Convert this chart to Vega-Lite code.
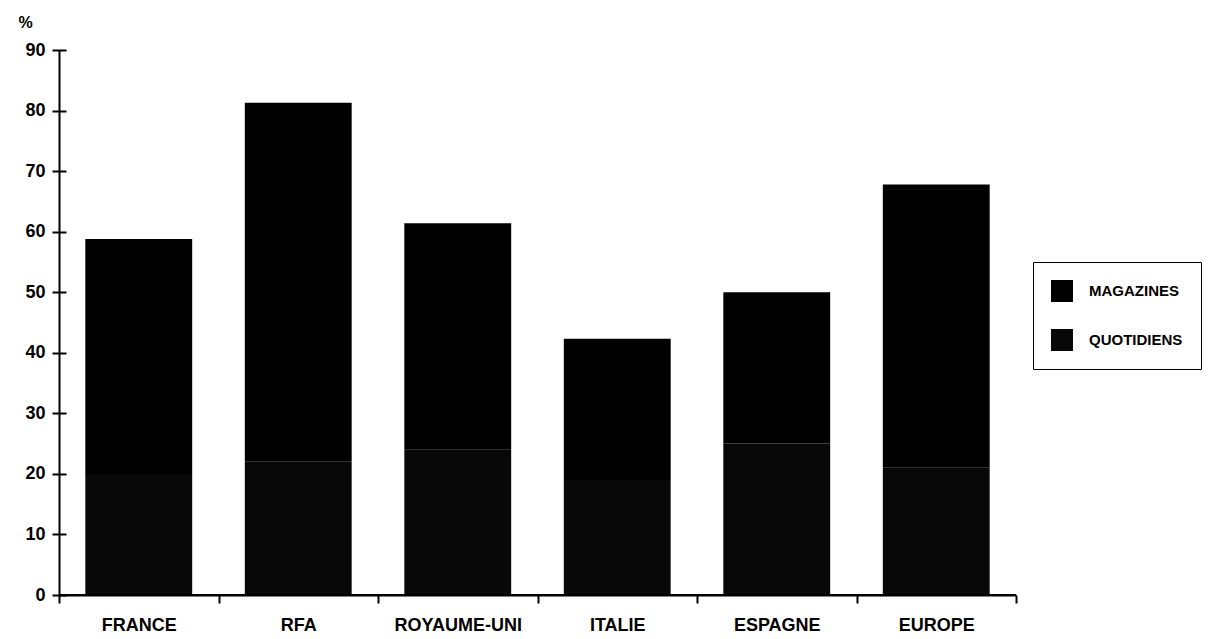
{
  "$schema": "https://vega.github.io/schema/vega-lite/v6.json",
  "autosize": "none",
  "width": 957,
  "height": 545,
  "padding": {"left": 59, "top": 50, "right": 212, "bottom": 44},
  "background": "white",
  "data": {
    "values": [
      {"pays": "FRANCE", "support": "QUOTIDIENS", "rang": 1, "pct": 20},
      {"pays": "FRANCE", "support": "MAGAZINES", "rang": 2, "pct": 38.8},
      {"pays": "RFA", "support": "QUOTIDIENS", "rang": 1, "pct": 22},
      {"pays": "RFA", "support": "MAGAZINES", "rang": 2, "pct": 59.3},
      {"pays": "ROYAUME-UNI", "support": "QUOTIDIENS", "rang": 1, "pct": 24},
      {"pays": "ROYAUME-UNI", "support": "MAGAZINES", "rang": 2, "pct": 37.4},
      {"pays": "ITALIE", "support": "QUOTIDIENS", "rang": 1, "pct": 19},
      {"pays": "ITALIE", "support": "MAGAZINES", "rang": 2, "pct": 23.3},
      {"pays": "ESPAGNE", "support": "QUOTIDIENS", "rang": 1, "pct": 25},
      {"pays": "ESPAGNE", "support": "MAGAZINES", "rang": 2, "pct": 25},
      {"pays": "EUROPE", "support": "QUOTIDIENS", "rang": 1, "pct": 21},
      {"pays": "EUROPE", "support": "MAGAZINES", "rang": 2, "pct": 46.8}
    ]
  },
  "config": {
    "view": {"stroke": null},
    "font": "Liberation Sans",
    "axis": {"grid": false, "domainColor": "black", "tickColor": "black", "labelColor": "black", "labelFontWeight": "bold", "domainWidth": 2, "tickWidth": 2}
  },
  "layer": [
    {
      "mark": {"type": "bar", "color": "black", "width": {"band": 0.67}},
      "encoding": {
        "x": {
          "field": "pays", "type": "nominal", "sort": null,
          "scale": {"paddingInner": 0, "paddingOuter": 0},
          "axis": {"title": null, "labelAngle": 0, "labelFontSize": 18, "labelPadding": 13, "tickSize": 8, "tickBand": "extent"}
        },
        "y": {
          "field": "pct", "type": "quantitative", "stack": "zero",
          "scale": {"domain": [0, 90], "nice": false},
          "axis": {"orient": "left", "offset": -7, "domain": false, "tickSize": 14, "values": [0,10,20,30,40,50,60,70,80,90], "labelFontSize": 18, "labelPadding": 7, "title": null}
        },
        "color": {
          "field": "support", "type": "nominal",
          "scale": {"domain": ["MAGAZINES", "QUOTIDIENS"], "range": ["#000000", "#080808"]},
          "legend": {
            "title": null, "orient": "none", "legendX": 974, "legendY": 212,
            "symbolType": "square", "symbolSize": 484, "symbolStrokeWidth": 0,
            "labelFontSize": 15, "labelFontWeight": "bold", "labelOffset": 16,
            "rowPadding": 27, "padding": 18, "strokeColor": "black",
            "labelColor": "black"
          }
        },
        "order": {"field": "rang", "type": "quantitative"}
      }
    },
    {
      "mark": {"type": "rule", "color": "black", "strokeWidth": 2},
      "encoding": {
        "y": {
          "datum": 0, "type": "quantitative",
          "axis": {"orient": "left", "domain": true, "ticks": false, "labels": false, "title": "%", "titleAngle": 0, "titleX": -41, "titleY": -28, "titleAlign": "left", "titleBaseline": "middle", "titleFontSize": 16, "titleFontWeight": "bold", "titleColor": "black"}
        }
      }
    }
  ],
  "resolve": {"axis": {"y": "independent"}}
}
